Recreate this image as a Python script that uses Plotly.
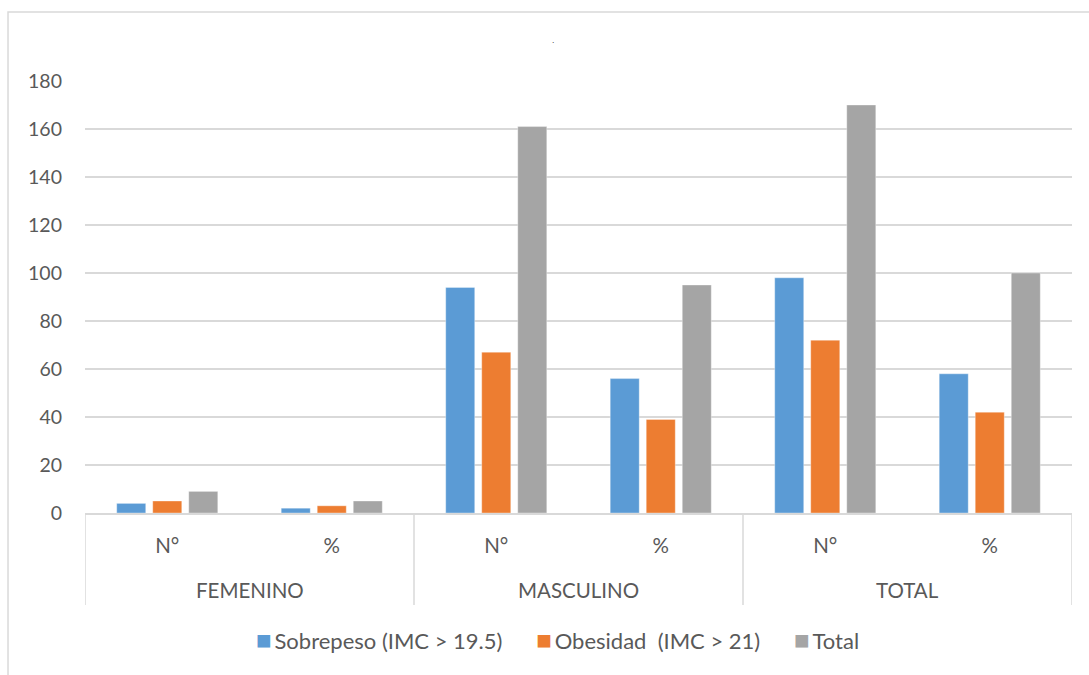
import plotly.graph_objects as go

# Categories: sex group and measure (count / percentage)
groups = ["FEMENINO", "MASCULINO", "TOTAL"]
measures = ["N°", "%"]

sobrepeso = [4, 2, 94, 56, 98, 58]
obesidad = [5, 3, 67, 39, 72, 42]
total = [9, 5, 161, 95, 170, 100]

y_ticks = [0, 20, 40, 60, 80, 100, 120, 140, 160, 180]

series_names = ["Sobrepeso (IMC > 19.5)", "Obesidad  (IMC > 21)", "Total"]
series_colors = ["#5b9bd5", "#ed7d31", "#a5a5a5"]

x_pos = list(range(len(groups) * len(measures)))
x_text = [m for _ in groups for m in measures]

FONT = "Lato, 'Open Sans', Arial, sans-serif"
TXT = "#595959"
GRID = "#d9d9d9"

fig = go.Figure()
for name, vals, col in zip(series_names, [sobrepeso, obesidad, total], series_colors):
    fig.add_trace(go.Bar(
        x=x_pos, y=vals, name=name, showlegend=False,
        marker=dict(color=col, line=dict(color="rgba(255,255,255,0.35)", width=1)),
    ))

# Group labels below the measure labels, centred on each pair of categories
for i, g in enumerate(groups):
    fig.add_annotation(
        x=i * 2 + 0.5, xref="x", y=-0.178, yref="paper",
        text=g, showarrow=False, font=dict(family=FONT, size=20.5, color=TXT),
        yanchor="middle",
    )

# Vertical dividers between the groups
for b in [-0.5, 1.5, 3.5, 5.5]:
    fig.add_shape(type="line", xref="x", yref="paper", x0=b, x1=b, y0=0, y1=-0.213,
                  line=dict(color=GRID, width=1.5))

# Legend row: coloured square followed by the series name
legend_parts = [
    f'<span style="color:{c};font-size:26px">■</span>&#8201;{n.replace("  ", "&nbsp;&nbsp;")}'
    for n, c in zip(series_names, series_colors)
]
legend_sep = "&nbsp;" * 6
fig.add_annotation(
    x=0.4785, xref="paper", y=-0.2925, yref="paper", xanchor="center", yanchor="middle",
    text=legend_sep.join(legend_parts),
    showarrow=False, font=dict(family=FONT, size=22, color=TXT),
)

# Chart-area border
fig.add_shape(type="rect", xref="paper", yref="paper",
              x0=-0.078, x1=1.05, y0=-0.4, y1=1.16,
              line=dict(color="#d9d9d9", width=1.5), layer="below")

fig.update_layout(
    width=1089, height=675,
    margin=dict(l=85, r=17, t=81, b=162),
    paper_bgcolor="white", plot_bgcolor="white",
    font=dict(family=FONT, size=19, color=TXT),
    title=dict(text=".", x=0.508, xanchor="center", y=0.94, yanchor="middle",
               font=dict(size=8, color="#404040")),
    barmode="group", bargap=0.343, bargroupgap=0.194,
    xaxis=dict(
        tickmode="array", tickvals=x_pos, ticktext=x_text,
        range=[-0.5, 5.5], showline=True, linecolor=GRID, linewidth=1.5,
        ticks="", showgrid=False, ticklabelstandoff=14,
        tickfont=dict(family=FONT, size=20.5, color=TXT),
    ),
    yaxis=dict(
        range=[0, 180], tickvals=y_ticks, showgrid=True, gridcolor=GRID,
        gridwidth=1.5, zeroline=False, showline=False, ticks="",
        ticklabelstandoff=22,
        tickfont=dict(family=FONT, size=19.5, color=TXT),
    ),
)

fig.write_html("out.html")
